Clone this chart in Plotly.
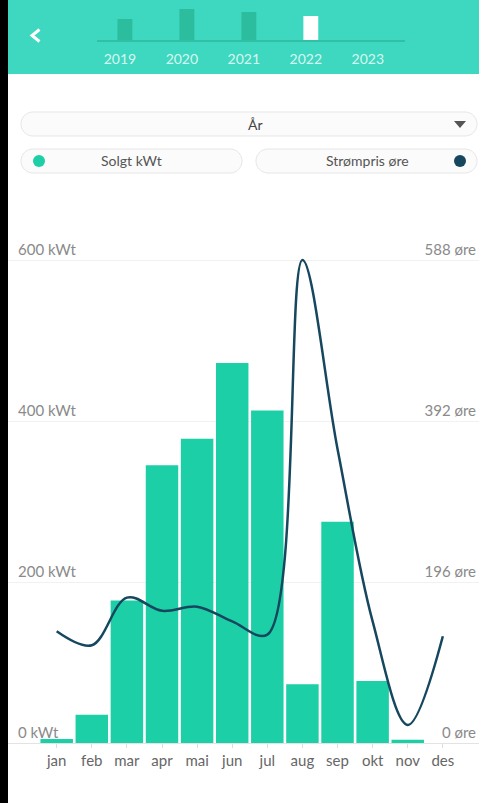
import numpy as np
import plotly.graph_objects as go

# ---------------- data ----------------
months = ["jan", "feb", "mar", "apr", "mai", "jun", "jul", "aug", "sep", "okt", "nov", "des"]
sold_kwt = [5, 35, 177, 345, 378, 472, 413, 73, 275, 77, 4, 0]
price_ore = [136, 119, 177, 161, 166, 148, 132, 588, 358, 148, 22, 130]

years = ["2019", "2020", "2021", "2022", "2023"]
year_kwt = [1972, 2911, 2630, 2254, 0]

left_ticks = [0, 200, 400, 600]
left_ticktext = ["0 kWt", "200 kWt", "400 kWt", "600 kWt"]
right_ticks = [0, 196, 392, 588]
right_ticktext = ["0 øre", "196 øre", "392 øre", "588 øre"]

# ---------------- geometry helpers ----------------
W, H = 479, 803
ML, MR, MT, MB = 8, 0, 0, 60
PW = W - ML - MR
PH = H - MT - MB


def xp(px):
    return (px - ML) / PW


def yp(py):
    return (H - MB - py) / PH


def pill_path(x0, y0, x1, y1):
    r = (y1 - y0) / 2.0
    pts = []
    for a in np.linspace(-np.pi / 2, np.pi / 2, 24):
        pts.append((x1 - r + r * np.cos(a), (y0 + y1) / 2 + r * np.sin(a)))
    for a in np.linspace(np.pi / 2, 3 * np.pi / 2, 24):
        pts.append((x0 + r + r * np.cos(a), (y0 + y1) / 2 + r * np.sin(a)))
    return "M " + " L ".join(f"{xp(x):.5f},{yp(y):.5f}" for x, y in pts) + " Z"


FONT = "Lato"
TEAL = "#1dcfa6"
NAVY = "#16475f"

fig = go.Figure()

fig.add_trace(go.Bar(
    x=months, y=sold_kwt, marker=dict(color=TEAL, line=dict(width=0)),
    yaxis="y", xaxis="x", name="Solgt kWt", hoverinfo="skip"))

fig.add_trace(go.Scatter(
    x=months, y=price_ore, mode="lines",
    line=dict(color=NAVY, width=2.5, shape="spline", smoothing=1.0),
    yaxis="y2", xaxis="x", name="Strømpris øre", hoverinfo="skip"))

fig.add_trace(go.Bar(
    x=years, y=year_kwt, width=0.24,
    marker=dict(color=["#2bbd9e", "#2bbd9e", "#2bbd9e", "#ffffff", "#2bbd9e"], line=dict(width=0)),
    xaxis="x3", yaxis="y3", hoverinfo="skip"))

# empty helper traces so the label-only axes get their own subplot
fig.add_trace(go.Scatter(x=[], y=[], xaxis="x5", yaxis="y4", hoverinfo="skip"))
fig.add_trace(go.Scatter(x=[], y=[], xaxis="x5", yaxis="y5", hoverinfo="skip"))

ytop = PH * 600 / (743 - 260)
y2top = ytop * 588 / 600

shapes = []
shapes.append(dict(type="rect", xref="paper", yref="paper", x0=xp(0), x1=xp(W), y0=yp(74), y1=yp(0),
                   fillcolor="#3dd8bf", line=dict(width=0), layer="below"))
shapes.append(dict(type="path", xref="paper", yref="paper",
                   path=f"M {xp(39.5)},{yp(29.5)} L {xp(32)},{yp(35.5)} L {xp(39.5)},{yp(41.5)}",
                   line=dict(color="white", width=3), layer="above"))
for (a, b, c, d) in [(21, 112, 477, 136), (21, 149, 242, 173), (256, 149, 477, 173)]:
    shapes.append(dict(type="path", xref="paper", yref="paper", path=pill_path(a, b, c, d),
                       fillcolor="#fbfbfb", line=dict(color="#e6e6e6", width=1), layer="below"))
for (cx, cy, col) in [(39, 161, TEAL), (460, 161, NAVY)]:
    shapes.append(dict(type="circle", xref="paper", yref="paper",
                       x0=xp(cx - 6), x1=xp(cx + 6), y0=yp(cy + 6), y1=yp(cy - 6),
                       fillcolor=col, line=dict(width=0), layer="above"))
shapes.append(dict(type="path", xref="paper", yref="paper",
                   path=f"M {xp(454)},{yp(121)} L {xp(466)},{yp(121)} L {xp(460)},{yp(128)} Z",
                   fillcolor="#555555", line=dict(width=0), layer="above"))
shapes.append(dict(type="path", xref="paper", yref="paper",
                   path=(f"M {xp(-4)},{yp(H + 5)} L {xp(8)},{yp(H + 5)} "
                         f"L {xp(8)},{yp(-5)} L {xp(-4)},{yp(-5)} Z"),
                   fillcolor="black", line=dict(width=0), layer="above"))

annotations = [
    dict(text="År", x=xp(255), y=yp(124), xref="paper", yref="paper", showarrow=False,
         font=dict(family=FONT, size=14, color="#444444"), xanchor="center", yanchor="middle"),
    dict(text="Solgt kWt", x=xp(131), y=yp(161), xref="paper", yref="paper", showarrow=False,
         font=dict(family=FONT, size=14, color="#555555"), xanchor="center", yanchor="middle"),
    dict(text="Strømpris øre", x=xp(367), y=yp(161), xref="paper", yref="paper", showarrow=False,
         font=dict(family=FONT, size=14, color="#555555"), xanchor="center", yanchor="middle"),
]

fig.update_layout(
    width=W, height=H,
    margin=dict(l=ML, r=MR, t=MT, b=MB),
    paper_bgcolor="white", plot_bgcolor="rgba(0,0,0,0)",
    showlegend=False, bargap=0.075,
    font=dict(family=FONT, color="#888888", size=14),
    shapes=shapes, annotations=annotations,
    xaxis=dict(domain=[0, 1], range=[-1.387, 12.03], anchor="y",
               showline=True, linecolor="#e3e3e3", linewidth=1,
               ticks="outside", ticklen=4, tickcolor="#dddddd",
               tickfont=dict(family=FONT, size=15, color="#666666"),
               showgrid=False, fixedrange=True),
    yaxis=dict(domain=[0, 1], range=[0, ytop], anchor="x",
               tickvals=left_ticks, showticklabels=False, ticks="",
               showgrid=True, gridcolor="#f1f1f1", gridwidth=1,
               zeroline=False, showline=False),
    yaxis2=dict(overlaying="y", side="right", anchor="x",
                range=[0, y2top], tickvals=right_ticks, showticklabels=False, ticks="",
                showgrid=False, zeroline=False, showline=False),
    xaxis5=dict(domain=[0, 1], range=[0, 1], anchor="y4", visible=False),
    yaxis4=dict(domain=[0, 1], range=[0, ytop], anchor="x5",
                tickvals=left_ticks, ticktext=left_ticktext,
                ticklabelposition="inside top", ticklabelstandoff=7, ticks="",
                tickfont=dict(family=FONT, size=15, color="#8a8a8a"),
                showgrid=False, zeroline=False, showline=False),
    yaxis5=dict(overlaying="y4", side="right", anchor="x5",
                range=[0, y2top], tickvals=right_ticks, ticktext=right_ticktext,
                ticklabelposition="inside top", ticks="",
                tickfont=dict(family=FONT, size=15, color="#8a8a8a"),
                showgrid=False, zeroline=False, showline=False),
    xaxis3=dict(domain=[xp(97), xp(405)], range=[-0.45, 4.52], anchor="y3",
                showline=True, linecolor="#2fc0a5", linewidth=1.5,
                ticks="", ticklabelshift=-5, ticklabelstandoff=6,
                tickfont=dict(family=FONT, size=14, color="rgba(255,255,255,0.8)"),
                showgrid=False),
    yaxis3=dict(domain=[yp(40), yp(9)], range=[0, 2911], anchor="x3",
                visible=False, showgrid=False),
)

fig.write_html("out.html",
               config={"displayModeBar": False, "staticPlot": True},
               post_script="document.body.style.margin='0';document.body.style.padding='0';"
                           "document.body.style.overflow='hidden';")
